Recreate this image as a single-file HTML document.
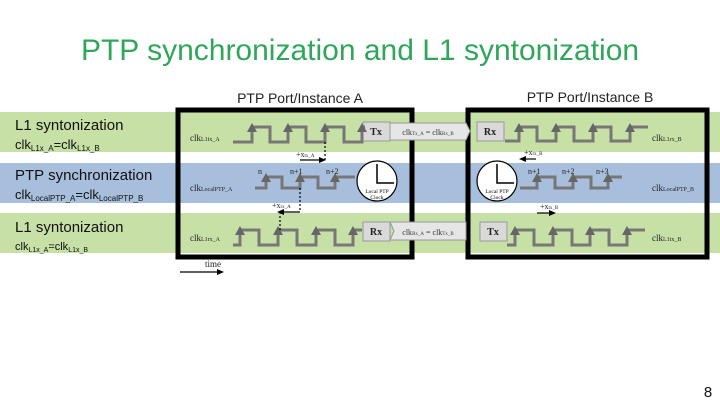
<!DOCTYPE html>
<html><head><meta charset="utf-8"><style>
body{margin:0;background:#fff}
svg{display:block}
</style></head><body>
<svg width="720" height="405" viewBox="0 0 720 405" xmlns="http://www.w3.org/2000/svg" font-family="Liberation Sans, sans-serif">
<text x="360" y="60" text-anchor="middle" font-size="30" fill="#2fa65a">PTP synchronization and L1 syntonization</text>
<text x="300" y="103" text-anchor="middle" font-size="14" fill="#222">PTP Port/Instance A</text>
<text x="590" y="102" text-anchor="middle" font-size="14" fill="#222">PTP Port/Instance B</text>
<rect x="0" y="112" width="720" height="40" fill="#c7e0a6"/>
<rect x="0" y="163" width="720" height="40" fill="#a7bfdc"/>
<rect x="0" y="213" width="720" height="40" fill="#c7e0a6"/>
<g fill="#111">
<text x="15" y="130" font-size="15">L1 syntonization</text>
<text x="15" y="149" font-size="13">clk<tspan font-size="8" dy="2">L1x_A</tspan><tspan dy="-2">=clk</tspan><tspan font-size="8" dy="2">L1x_B</tspan></text>
<text x="15" y="180" font-size="15">PTP synchronization</text>
<text x="15" y="199" font-size="13">clk<tspan font-size="8" dy="2">LocalPTP_A</tspan><tspan dy="-2">=clk</tspan><tspan font-size="8" dy="2">LocalPTP_B</tspan></text>
<text x="15" y="232" font-size="15">L1 syntonization</text>
<text x="15" y="250" font-size="11">clk<tspan font-size="7" dy="2">L1x_A</tspan><tspan dy="-2">=clk</tspan><tspan font-size="7" dy="2">L1x_B</tspan></text>
</g>
<!-- boxes -->
<rect x="178" y="110" width="234" height="147" fill="none" stroke="#000" stroke-width="5"/>
<rect x="468" y="110" width="239" height="147" fill="none" stroke="#000" stroke-width="5"/>
<!-- link shapes -->
<polygon points="390,123 466,123 470,131 466,140 390,140" fill="#e6e6e6" stroke="#999"/>
<polygon points="390,222 466,222 466,240 390,240 394,231" fill="#e6e6e6" stroke="#999"/>
<text x="428" y="135" text-anchor="middle" font-size="8" fill="#333" font-family="Liberation Serif,serif">clk<tspan font-size="5">Tx_A</tspan> = clk<tspan font-size="5">Rx_B</tspan></text>
<text x="428" y="235" text-anchor="middle" font-size="8" fill="#333" font-family="Liberation Serif,serif">clk<tspan font-size="5">Rx_A</tspan> = clk<tspan font-size="5">Tx_B</tspan></text>
<g fill="#d9d9d9" stroke="#999">
<rect x="363" y="122" width="27" height="19"/><rect x="363" y="222" width="27" height="19"/>
<rect x="477" y="122" width="27" height="19"/><rect x="480" y="222" width="27" height="19"/>
</g>
<g font-family="Liberation Serif,serif" font-size="10" font-weight="bold" fill="#222" text-anchor="middle">
<text x="376" y="135">Tx</text><text x="376" y="235">Rx</text><text x="490" y="135">Rx</text><text x="493" y="235">Tx</text>
</g>
<!-- waveforms -->
<g fill="none" stroke="#777" stroke-width="3">
<polyline points="233,142 252,142 252,127 270,127 270,142 288,142 288,127 306,127 306,142 325,142 325,127 344,127 344,142 362,142 362,127 365,127"/>
<polyline points="255,188 266,188 266,177 282,177 282,188 300,188 300,177 318,177 318,188 335,188 335,177 355,177"/>
<polyline points="233,245 240,245 240,230 259,230 259,245 278,245 278,230 297,230 297,245 316,245 316,230 335,230 335,245 353,245 353,230 362,230"/>
<polyline points="505,141 519,141 519,127 537,127 537,141 556,141 556,127 574,127 574,141 593,141 593,127 611,127 611,141 630,141 630,127 648,127"/>
<polyline points="520,188 537,188 537,177 555,177 555,188 573,188 573,177 591,177 591,188 608,188 608,177 622,177"/>
<polyline points="507,245 515,245 515,230 534,230 534,245 553,245 553,230 572,230 572,245 590,245 590,230 609,230 609,245 627,245 627,230 645,230"/>
</g>
<g fill="#666">
<polygon points="252,123 247,132 257,132"/><polygon points="288,123 283,132 293,132"/><polygon points="325,123 320,132 330,132"/><polygon points="362,123 357,132 367,132"/>
<polygon points="266,173 261,182 271,182"/><polygon points="300,173 295,182 305,182"/><polygon points="335,173 330,182 340,182"/>
<polygon points="240,226 235,235 245,235"/><polygon points="278,226 273,235 283,235"/><polygon points="316,226 311,235 321,235"/><polygon points="353,226 348,235 358,235"/>
<polygon points="519,123 514,132 524,132"/><polygon points="556,123 551,132 561,132"/><polygon points="593,123 588,132 598,132"/><polygon points="630,123 625,132 635,132"/>
<polygon points="537,173 532,182 542,182"/><polygon points="573,173 568,182 578,182"/><polygon points="608,173 603,182 613,182"/>
<polygon points="515,226 510,235 520,235"/><polygon points="553,226 548,235 558,235"/><polygon points="590,226 585,235 595,235"/><polygon points="627,226 622,235 632,235"/>
</g>
<!-- labels in boxes -->
<g font-family="Liberation Serif,serif" font-size="9" fill="#222">
<text x="190" y="141">clk<tspan font-size="6">L1tx_A</tspan></text>
<text x="190" y="191">clk<tspan font-size="6">LocalPTP_A</tspan></text>
<text x="190" y="241">clk<tspan font-size="6">L1rx_A</tspan></text>
<text x="652" y="141">clk<tspan font-size="6">L1rx_B</tspan></text>
<text x="652" y="191">clk<tspan font-size="6">LocalPTP_B</tspan></text>
<text x="652" y="241">clk<tspan font-size="6">L1tx_B</tspan></text>
<text x="258" y="174" font-size="8">n</text><text x="290" y="174" font-size="8">n+1</text><text x="326" y="174" font-size="8">n+2</text>
<text x="528" y="174" font-size="8">n+1</text><text x="562" y="174" font-size="8">n+2</text><text x="596" y="174" font-size="8">n+3</text>
<text x="296" y="157" font-size="8">+x<tspan font-size="5">tx_A</tspan></text>
<text x="272" y="208" font-size="8">+x<tspan font-size="5">rx_A</tspan></text>
<text x="524" y="155" font-size="8">+x<tspan font-size="5">rx_B</tspan></text>
<text x="540" y="209" font-size="8">+x<tspan font-size="5">tx_B</tspan></text>
<text x="205" y="267" font-size="9">time</text>
</g>
<g stroke="#000" stroke-width="1.2" fill="none">
<line x1="325" y1="142" x2="325" y2="160" stroke-dasharray="2,2"/>
<line x1="300" y1="160" x2="322" y2="160"/>
<line x1="300" y1="188" x2="300" y2="212" stroke-dasharray="2,2"/>
<line x1="280" y1="212" x2="300" y2="212"/>
<line x1="280" y1="212" x2="280" y2="230" stroke-dasharray="2,2"/>
<line x1="523" y1="159" x2="536" y2="159"/>
<line x1="537" y1="213" x2="552" y2="213"/>
<line x1="180" y1="272" x2="220" y2="272"/>
</g>
<g fill="#000">
<polygon points="326,160 319,157 319,163"/><polygon points="277,212 284,209 284,215"/>
<polygon points="519,159 526,156 526,162"/><polygon points="556,213 549,210 549,216"/><polygon points="224,272 217,269 217,275"/>
</g>
<!-- clocks -->
<g>
<circle cx="377" cy="181" r="20" fill="#fff" stroke="#000" stroke-width="1.2"/>
<polyline points="377,164 377,183 394,183" fill="none" stroke="#000" stroke-width="1.5"/>
<text x="377" y="193" text-anchor="middle" font-size="5.5" font-family="Liberation Serif,serif">Local PTP</text>
<text x="377" y="199" text-anchor="middle" font-size="5.5" font-family="Liberation Serif,serif">Clock</text>
<circle cx="497" cy="181" r="20" fill="#fff" stroke="#000" stroke-width="1.2"/>
<polyline points="497,164 497,183 514,183" fill="none" stroke="#000" stroke-width="1.5"/>
<text x="497" y="193" text-anchor="middle" font-size="5.5" font-family="Liberation Serif,serif">Local PTP</text>
<text x="497" y="199" text-anchor="middle" font-size="5.5" font-family="Liberation Serif,serif">Clock</text>
</g>
<text x="708" y="397" text-anchor="middle" font-size="15" fill="#111">8</text>
</svg>
</body></html>
